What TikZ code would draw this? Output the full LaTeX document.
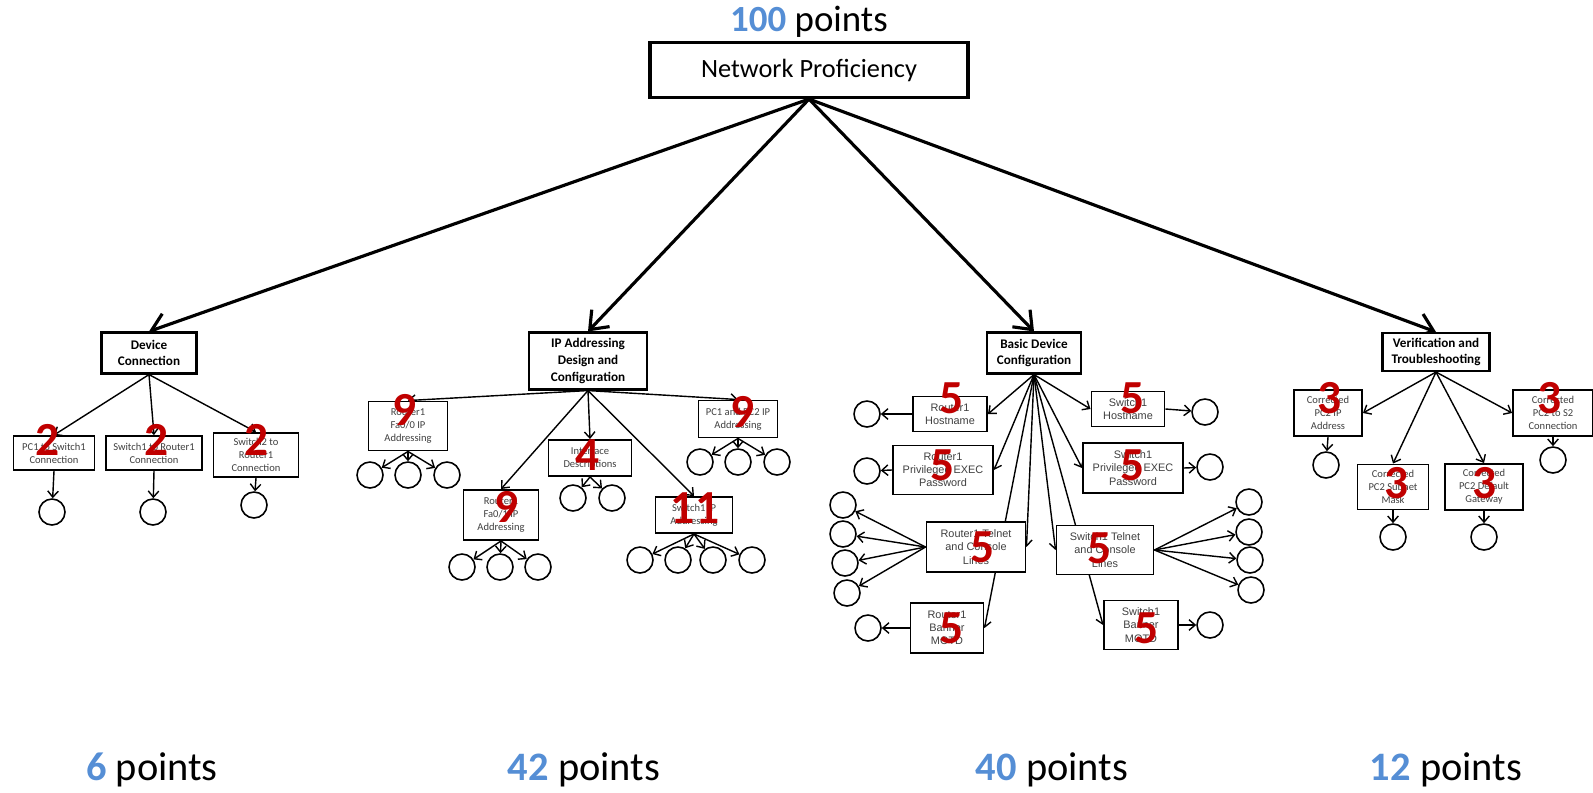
\documentclass[tikz,border=0pt]{standalone}
\usepackage{fontspec}
\setmainfont{Carlito}
\newfontfamily\arialfont{Liberation Sans}
\usepackage{tikz}
\usetikzlibrary{
  positioning,
  arrows.meta,
  backgrounds
}
\definecolor{ptblue}{HTML}{558ED5}
\definecolor{ptred}{HTML}{C00000}
\tikzstyle{topbox}=[draw, line width=1.8pt, fill=white, minimum width=6.36cm, minimum height=1.1cm, font=\fontsize{15}{18}\selectfont]
\tikzstyle{groupbox}=[draw, line width=1.2pt, fill=white, align=center, inner sep=1pt, font=\bfseries\fontsize{7.5}{9.5}\selectfont]
\tikzstyle{itembox}=[draw, line width=1.1pt, fill=white, align=center, inner sep=1pt, text=black!75, font=\fontsize{6}{7.4}\selectfont]
\tikzstyle{arialbox}=[itembox, font=\arialfont\fontsize{6.2}{7.5}\selectfont]
\tikzstyle{leaf}=[draw, circle, line width=0.9pt, minimum size=0.52cm, inner sep=0pt]
\tikzstyle{mainarrow}=[-{Straight Barb[length=9pt,width=14pt]}, line width=1.8pt]
\tikzstyle{subarrow}=[-{Straight Barb[length=3.5pt,width=6pt]}, line width=0.8pt]
\tikzstyle{score}=[text=ptred, font=\bfseries\fontsize{27}{27}\selectfont, inner sep=0pt]
\tikzstyle{total}=[font=\fontsize{23}{23}\selectfont, inner sep=0pt]
\tikzset{wh/.style 2 args={minimum width=#1*0.02cm, minimum height=#2*0.02cm}}

\begin{document}
\begin{tikzpicture}[x=0.02cm, y=-0.02cm]
    \useasboundingbox (0,0) rectangle (1593,792);

    % 全体の得点
    \node[total, font=\fontsize{21}{21}\selectfont] (P100) at (809,22) {{\color{ptblue}\bfseries 100} points};
    % 最上位の項目
    \node[topbox] (NP) at (809,70) {Network Proficiency};

    % 第1階層
    \node[groupbox, wh={95}{41}] (DC) at (149,353) {Device\\Connection};
    \node[groupbox, wh={118}{57}] (IP) at (588,361) {IP Addressing\\Design and\\Configuration};
    \node[groupbox, wh={94}{41}] (BD) at (1034,353) {Basic Device\\Configuration};
    \node[groupbox, wh={107}{38}] (VT) at (1436,352) {Verification and\\Troubleshooting};

    % Device Connection の下位項目
    \node[itembox, wh={81}{34}] (DC1) at (54,453) {PC1 to Switch1\\Connection};
    \node[itembox, wh={96}{34}] (DC2) at (154,453) {Switch1 to Router1\\Connection};
    \node[itembox, wh={85}{44}] (DC3) at (256,455) {Switch2 to\\Router1\\Connection};
    \node[leaf] (DC1a) at (52,512) {};
    \node[leaf] (DC2a) at (153,512) {};
    \node[leaf] (DC3a) at (254,505) {};

    % IP Addressing の下位項目
    \node[itembox, wh={79}{49}] (IP1) at (408,426) {Router1\\Fa0/0 IP\\Addressing};
    \node[itembox, wh={75}{50}] (IP2) at (501,515) {Router1\\Fa0/1 IP\\Addressing};
    \node[itembox, wh={83}{36}] (IP3) at (590,458) {Interface\\Descriptions};
    \node[itembox, wh={77}{36}] (IP4) at (694,515) {Switch1 IP\\Addressing};
    \node[itembox, wh={79}{37}] (IP5) at (738,419) {PC1 and PC2 IP\\Addressing};
    \node[leaf] (IP1a) at (370,475) {};
    \node[leaf] (IP1b) at (408,475) {};
    \node[leaf] (IP1c) at (447,475) {};
    \node[leaf] (IP2a) at (462,567) {};
    \node[leaf] (IP2b) at (500,567) {};
    \node[leaf] (IP2c) at (538,567) {};
    \node[leaf] (IP3a) at (573,498) {};
    \node[leaf] (IP3b) at (612,498) {};
    \node[leaf] (IP4a) at (640,560) {};
    \node[leaf] (IP4b) at (678,560) {};
    \node[leaf] (IP4c) at (713,560) {};
    \node[leaf] (IP4d) at (752,560) {};
    \node[leaf] (IP5a) at (700,462) {};
    \node[leaf] (IP5b) at (738,462) {};
    \node[leaf] (IP5c) at (777,462) {};

    % Basic Device Configuration の下位項目
    \node[arialbox, wh={74}{35}] (BD1) at (950,414) {Router1\\Hostname};
    \node[arialbox, wh={73}{35}] (BD2) at (1128,409) {Switch1\\Hostname};
    \node[arialbox, wh={100}{49}] (BD3) at (943,470) {Router1\\Privileged EXEC\\Password};
    \node[arialbox, wh={100}{50}] (BD4) at (1133,468) {Switch1\\Privileged EXEC\\Password};
    \node[arialbox, wh={99}{50}] (BD5) at (976,547) {Router1 Telnet\\and Console\\Lines};
    \node[arialbox, wh={97}{49}] (BD6) at (1105,550) {Switch1 Telnet\\and Console\\Lines};
    \node[arialbox, wh={73}{50}] (BD7) at (947,628) {Router1\\Banner\\MOTD};
    \node[arialbox, wh={74}{49}] (BD8) at (1141,625) {Switch1\\Banner\\MOTD};
    \node[leaf] (BD1a) at (867,414) {};
    \node[leaf] (BD2a) at (1205,412) {};
    \node[leaf] (BD3a) at (867,471) {};
    \node[leaf] (BD4a) at (1210,467) {};
    \node[leaf] (BD5a) at (843,505) {};
    \node[leaf] (BD5b) at (843,534) {};
    \node[leaf] (BD5c) at (845,563) {};
    \node[leaf] (BD5d) at (847,593) {};
    \node[leaf] (BD6a) at (1249,502) {};
    \node[leaf] (BD6b) at (1249,532) {};
    \node[leaf] (BD6c) at (1250,560) {};
    \node[leaf] (BD6d) at (1251,590) {};
    \node[leaf] (BD7a) at (868,628) {};
    \node[leaf] (BD8a) at (1210,625) {};

    % Verification and Troubleshooting の下位項目
    \node[itembox, wh={68}{46}] (VT1) at (1328,413) {Corrected\\PC2 IP\\Address};
    \node[itembox, wh={71}{45}] (VT2) at (1393,487) {Corrected\\PC2 Subnet\\Mask};
    \node[itembox, wh={78}{46}] (VT3) at (1484,487) {Corrected\\PC2 Default\\Gateway};
    \node[itembox, wh={80}{46}] (VT4) at (1553,413) {Corrected\\PC2 to S2\\Connection};
    \node[leaf] (VT1a) at (1326,465) {};
    \node[leaf] (VT2a) at (1393,537) {};
    \node[leaf] (VT3a) at (1484,537) {};
    \node[leaf] (VT4a) at (1553,460) {};

    % 矢印の描画（箱の裏側）
    \begin{scope}[on background layer]
        \draw[mainarrow] (NP.south) -- (DC.north);
        \draw[mainarrow] (NP.south) -- (IP.north);
        \draw[mainarrow] (NP.south) -- (BD.north);
        \draw[mainarrow] (NP.south) -- (VT.north);

        \draw[subarrow] (DC.south) -- (DC1.north);
        \draw[subarrow] (DC.south) -- (DC2.north);
        \draw[subarrow] (DC.south) -- (DC3.north);
        \draw[subarrow] (DC1.south) -- (DC1a);
        \draw[subarrow] (DC2.south) -- (DC2a);
        \draw[subarrow] (DC3.south) -- (DC3a);

        \draw[subarrow] (IP.south) -- (IP1.north);
        \draw[subarrow] (IP.south) -- (IP2.north);
        \draw[subarrow] (IP.south) -- (IP3.north);
        \draw[subarrow] (IP.south) -- (IP4.north);
        \draw[subarrow] (IP.south) -- (IP5.north);
        \draw[subarrow] (IP1.south) -- (IP1a);
        \draw[subarrow] (IP1.south) -- (IP1b);
        \draw[subarrow] (IP1.south) -- (IP1c);
        \draw[subarrow] (IP2.south) -- (IP2a);
        \draw[subarrow] (IP2.south) -- (IP2b);
        \draw[subarrow] (IP2.south) -- (IP2c);
        \draw[subarrow] (IP3.south) -- (IP3a);
        \draw[subarrow] (IP3.south) -- (IP3b);
        \draw[subarrow] (IP4.south) -- (IP4a);
        \draw[subarrow] (IP4.south) -- (IP4b);
        \draw[subarrow] (IP4.south) -- (IP4c);
        \draw[subarrow] (IP4.south) -- (IP4d);
        \draw[subarrow] (IP5.south) -- (IP5a);
        \draw[subarrow] (IP5.south) -- (IP5b);
        \draw[subarrow] (IP5.south) -- (IP5c);

        \draw[subarrow] (BD.south) -- (BD1.east);
        \draw[subarrow] (BD.south) -- (BD2.west);
        \draw[subarrow] (BD.south) -- (BD3.east);
        \draw[subarrow] (BD.south) -- (BD4.west);
        \draw[subarrow] (BD.south) -- (BD5.east);
        \draw[subarrow] (BD.south) -- (BD6.west);
        \draw[subarrow] (BD.south) -- (BD7.east);
        \draw[subarrow] (BD.south) -- (BD8.west);
        \draw[subarrow] (BD1.west) -- (BD1a);
        \draw[subarrow] (BD2.east) -- (BD2a);
        \draw[subarrow] (BD3.west) -- (BD3a);
        \draw[subarrow] (BD4.east) -- (BD4a);
        \draw[subarrow] (BD5.west) -- (BD5a);
        \draw[subarrow] (BD5.west) -- (BD5b);
        \draw[subarrow] (BD5.west) -- (BD5c);
        \draw[subarrow] (BD5.west) -- (BD5d);
        \draw[subarrow] (BD6.east) -- (BD6a);
        \draw[subarrow] (BD6.east) -- (BD6b);
        \draw[subarrow] (BD6.east) -- (BD6c);
        \draw[subarrow] (BD6.east) -- (BD6d);
        \draw[subarrow] (BD7.west) -- (BD7a);
        \draw[subarrow] (BD8.east) -- (BD8a);

        \draw[subarrow] (VT.south) -- (VT1.east);
        \draw[subarrow] (VT.south) -- (VT2.north);
        \draw[subarrow] (VT.south) -- (VT3.north);
        \draw[subarrow] (VT.south) -- (VT4.west);
        \draw[subarrow] (VT1.south) -- (VT1a);
        \draw[subarrow] (VT2.south) -- (VT2a);
        \draw[subarrow] (VT3.south) -- (VT3a);
        \draw[subarrow] (VT4.south) -- (VT4a);
    \end{scope}

    % 各項目の配点
    \node[score] (sDC1) at (48,440) {2};
    \node[score] (sDC2) at (157,440) {2};
    \node[score] (sDC3) at (257,440) {2};
    \node[score] (sIP1) at (405,410) {9};
    \node[score] (sIP2) at (507,507) {9};
    \node[score] (sIP3) at (588,455) {4};
    \node[score] (sIP4) at (695,508) {11};
    \node[score] (sIP5) at (743,412) {9};
    \node[score] (sBD1) at (952,398) {5};
    \node[score] (sBD2) at (1133,398) {5};
    \node[score] (sBD3) at (943,465) {5};
    \node[score] (sBD4) at (1133,465) {5};
    \node[score] (sBD5) at (983,547) {5};
    \node[score] (sBD6) at (1100,548) {5};
    \node[score] (sBD7) at (952,628) {5};
    \node[score] (sBD8) at (1147,628) {5};
    \node[score] (sVT1) at (1330,398) {3};
    \node[score] (sVT2) at (1397,483) {3};
    \node[score] (sVT3) at (1485,483) {3};
    \node[score] (sVT4) at (1550,398) {3};

    % 分野ごとの合計
    \node[total] (P6) at (152,770) {{\color{ptblue}\bfseries 6} points};
    \node[total] (P42) at (584,770) {{\color{ptblue}\bfseries 42} points};
    \node[total] (P40) at (1052,770) {{\color{ptblue}\bfseries 40} points};
    \node[total] (P12) at (1446,770) {{\color{ptblue}\bfseries 12} points};
\end{tikzpicture}
\end{document}
